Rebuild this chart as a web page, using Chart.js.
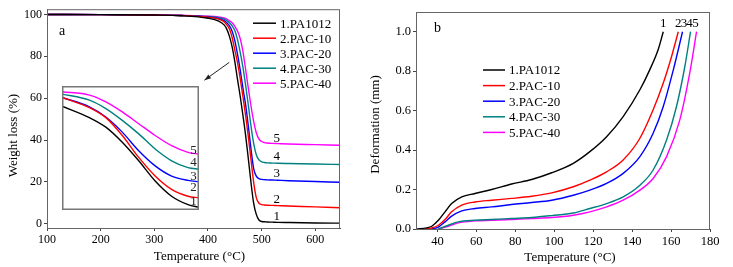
<!DOCTYPE html>
<html>
<head>
<meta charset="utf-8">
<script src="https://cdn.jsdelivr.net/npm/chart.js@4.4.0/dist/chart.umd.min.js"></script>
<style>
  body { margin: 0; background: #fff; }
  #wrap { position: relative; width: 733px; height: 267px; }
  canvas { position: absolute; }
  #inset { background: #fff; }
</style>
</head>
<body>
<div id="wrap">
  <canvas id="tga" width="366" height="267" style="left:0;top:0"></canvas>
  <canvas id="inset" width="137" height="124" style="left:62px;top:86px"></canvas>
  <canvas id="hdt" width="367" height="267" style="left:366px;top:0"></canvas>
</div>
<script>
const FONT = '"Liberation Serif", "Times New Roman", serif';

const seriesNames = ["1.PA1012", "2.PAC-10", "3.PAC-20", "4.PAC-30", "5.PAC-40"];
const seriesColors = ["#000000", "#ff0000", "#0000ff", "#008080", "#ff00ff"];
const curveNumbers = ["1", "2", "3", "4", "5"];

// panel a: weight loss vs temperature
const tgaTemp = [100, 200, 300, 350, 400, 420, 430, 435, 440, 445, 450, 455, 460, 465, 470, 475, 480, 485, 490, 495, 500, 505, 510, 520, 530, 550, 600, 650];
const tgaPA1012 = [100, 99.9, 99.7, 99.4, 98.2, 96.8, 95, 93, 89.5, 84.5, 77.5, 69, 61, 52, 42.5, 31.5, 20, 10, 4.5, 1.8, 1.1, 1.0, 0.9, 0.8, 0.7, 0.6, 0.4, 0.3];
const tgaPAC10 = [100, 99.9, 99.7, 99.5, 98.7, 97.8, 96.5, 95, 93, 89, 83, 77, 69.5, 61, 52, 42, 31, 20, 12.5, 9.8, 9.2, 9.0, 8.9, 8.8, 8.7, 8.5, 8.1, 7.6];
const tgaPAC20 = [100, 99.9, 99.7, 99.5, 98.8, 98, 97, 96, 94.5, 92, 87.5, 81, 73.5, 65, 57, 47, 36, 26.5, 22.8, 21.6, 21.2, 21.1, 21.0, 20.9, 20.8, 20.6, 20.2, 19.8];
const tgaPAC30 = [100, 99.9, 99.7, 99.5, 99, 98.4, 97.8, 97, 96, 94.5, 92.3, 88, 82, 75, 66.5, 57, 47, 38.5, 33, 30.5, 29.6, 29.3, 29.1, 29, 28.9, 28.8, 28.6, 28.3];
const tgaPAC40 = [100, 99.9, 99.8, 99.6, 99.2, 98.8, 98.3, 97.8, 97, 96, 94.3, 92, 88.5, 82.5, 74, 65, 56.5, 49, 43.5, 40.5, 39.3, 38.8, 38.6, 38.4, 38.3, 38.1, 37.8, 37.5];
const tgaLabelTemp = 528;
const tgaLabelWeight = [3.5, 11.7, 23.9, 32.2, 40.8];
const tgaArrow = [[439.7, 77.1], [393.3, 68.6]];

// inset of panel a (magnified onset, no axes)
const insetX = [0, 20, 32, 44, 56, 68, 80, 92, 100];
const insetPA1012 = [83.7, 74.5, 66.8, 54.6, 39.7, 23.4, 11.1, 4.3, 2.2];
const insetPAC10 = [90.8, 82.6, 74.5, 60.1, 42.4, 27.4, 16.6, 11.1, 9.8];
const insetPAC20 = [90.8, 83.2, 75, 62.8, 47.8, 35.6, 27.4, 23.9, 22.8];
const insetPAC30 = [93.5, 88.6, 81.8, 72.3, 61.4, 49.2, 39.7, 34.2, 32.9];
const insetPAC40 = [95.4, 92.7, 87.2, 79.1, 69.6, 60.1, 51.9, 46.5, 45.1];
const insetLabelX = 96;
const insetLabelY = [6.7, 17.7, 26.9, 37.9, 47.6];

// panel b: deformation vs temperature
const hdtTempPA1012 = [29.3, 34.5, 37.1, 40.5, 43.9, 47.3, 52.5, 59.3, 67.9, 78.1, 88.4, 98.7, 109.8, 118.3, 126.9, 135.4, 144, 149.1, 153.4, 156];
const hdtPA1012 = [0, 0.006, 0.014, 0.044, 0.087, 0.129, 0.163, 0.18, 0.2, 0.228, 0.251, 0.285, 0.333, 0.392, 0.468, 0.57, 0.706, 0.808, 0.91, 1.0];
const hdtTempPAC10 = [33.6, 37.1, 40.5, 43.9, 47.3, 52.5, 59.3, 67.9, 78.1, 88.4, 98.7, 109.8, 118.3, 126.9, 135.4, 144, 150.8, 156, 160.3, 163.7];
const hdtPAC10 = [0, 0.005, 0.019, 0.048, 0.087, 0.121, 0.137, 0.146, 0.155, 0.166, 0.183, 0.214, 0.248, 0.29, 0.35, 0.46, 0.604, 0.74, 0.876, 1.0];
const hdtTempPAC20 = [37.1, 40.5, 43.9, 47.3, 52.5, 59.3, 67.9, 78.1, 88.4, 98.7, 109.8, 118.3, 126.9, 135.4, 144, 150.8, 156, 161.2, 165.9];
const hdtPAC20 = [0, 0.01, 0.036, 0.065, 0.092, 0.104, 0.112, 0.124, 0.134, 0.146, 0.171, 0.197, 0.231, 0.282, 0.367, 0.485, 0.621, 0.808, 1.0];
const hdtTempPAC30 = [40.5, 45.6, 50.7, 59.3, 67.9, 78.1, 88.4, 98.7, 109.8, 118.3, 126.9, 135.4, 144, 150.8, 157.7, 162.8, 167.1, 170];
const hdtPAC30 = [0, 0.019, 0.036, 0.044, 0.048, 0.053, 0.058, 0.068, 0.081, 0.104, 0.129, 0.163, 0.222, 0.299, 0.451, 0.621, 0.825, 1.0];
const hdtTempPAC40 = [40.5, 45.6, 50.7, 59.3, 67.9, 78.1, 88.4, 98.7, 109.8, 118.3, 126.9, 135.4, 144, 150.8, 157.7, 164.5, 169.6, 173.1];
const hdtPAC40 = [0, 0.014, 0.031, 0.041, 0.044, 0.048, 0.053, 0.058, 0.07, 0.087, 0.112, 0.146, 0.197, 0.256, 0.367, 0.553, 0.791, 1.0];
const hdtLabelTemp = [156, 163.7, 166.6, 169.5, 172.5];
const hdtLabelDef = 1.042;

function toPoints(xs, ys) {
  return ys.map((y, i) => ({ x: xs[i], y: y }));
}

function lineSets(pointLists) {
  return pointLists.map((pts, i) => ({
    label: seriesNames[i],
    data: pts,
    borderColor: seriesColors[i],
    borderWidth: 1.4,
    pointRadius: 0,
    fill: false,
    cubicInterpolationMode: "monotone"
  }));
}

function axis(min, max, step, size, fmt, fitFn) {
  return {
    type: "linear",
    min: min,
    max: max,
    afterFit: fitFn,
    ticks: {
      stepSize: step,
      includeBounds: false,
      autoSkip: false,
      maxRotation: 0,
      padding: 2,
      color: "#000",
      font: { family: FONT, size: size },
      callback: fmt
    },
    grid: { drawOnChartArea: false, drawTicks: true, tickLength: 3, color: "#444" },
    border: { color: "#444", width: 1 }
  };
}

// frame, legend, axis titles and text labels
const decorPlugin = {
  id: "decor",
  afterDatasetsDraw(chart, args, opts) {
    const { ctx, chartArea: a, scales } = chart;
    ctx.save();

    ctx.strokeStyle = "#666";
    ctx.lineWidth = 1;
    ctx.strokeRect(a.left + 0.5, a.top + 0.5, a.right - a.left - 1, a.bottom - a.top);

    ctx.fillStyle = "#000";
    ctx.textBaseline = "middle";

    // panel letter
    ctx.font = "14px " + FONT;
    ctx.textAlign = "left";
    ctx.fillText(opts.letter, a.left + opts.letterAt[0], a.top + opts.letterAt[1]);

    // legend
    ctx.font = "13px " + FONT;
    seriesNames.forEach((name, i) => {
      const y = a.top + opts.legendAt[1] + i * opts.legendStep;
      const x = a.left + opts.legendAt[0];
      ctx.strokeStyle = seriesColors[i];
      ctx.lineWidth = 1.5;
      ctx.beginPath();
      ctx.moveTo(x, y);
      ctx.lineTo(x + opts.legendLine, y);
      ctx.stroke();
      ctx.fillText(name, x + opts.legendLine + 4, y + 1);
    });

    // curve numbers
    ctx.font = "13px " + FONT;
    ctx.textAlign = "center";
    opts.labels.forEach(l => {
      ctx.fillText(l.t, scales.x.getPixelForValue(l.x), scales.y.getPixelForValue(l.y));
    });

    // arrow
    if (opts.arrow) {
      const x0 = scales.x.getPixelForValue(opts.arrow[0][0]);
      const y0 = scales.y.getPixelForValue(opts.arrow[0][1]);
      const x1 = scales.x.getPixelForValue(opts.arrow[1][0]);
      const y1 = scales.y.getPixelForValue(opts.arrow[1][1]);
      const ang = Math.atan2(y1 - y0, x1 - x0);
      ctx.strokeStyle = "#222";
      ctx.fillStyle = "#222";
      ctx.lineWidth = 1;
      ctx.beginPath();
      ctx.moveTo(x0, y0);
      ctx.lineTo(x1, y1);
      ctx.stroke();
      ctx.beginPath();
      ctx.moveTo(x1, y1);
      ctx.lineTo(x1 - 7 * Math.cos(ang - 0.35), y1 - 7 * Math.sin(ang - 0.35));
      ctx.lineTo(x1 - 7 * Math.cos(ang + 0.35), y1 - 7 * Math.sin(ang + 0.35));
      ctx.closePath();
      ctx.fill();
    }

    // axis titles
    ctx.fillStyle = "#000";
    ctx.font = "13px " + FONT;
    ctx.textAlign = "center";
    ctx.fillText("Temperature (\u00B0C)", (a.left + a.right) / 2 + opts.xTitleShift, a.bottom + 29);
    ctx.translate(a.left + opts.yTitleAt[0], (a.top + a.bottom) / 2 + opts.yTitleAt[1]);
    ctx.rotate(-Math.PI / 2);
    ctx.fillText(opts.yTitle, 0, 0);

    ctx.restore();
  }
};

const insetPlugin = {
  id: "insetDecor",
  afterDatasetsDraw(chart) {
    const { ctx, scales } = chart;
    ctx.save();
    ctx.strokeStyle = "#777";
    ctx.lineWidth = 1.5;
    ctx.strokeRect(0.75, 0.75, chart.width - 1.5, chart.height - 1.5);
    ctx.fillStyle = "#222";
    ctx.font = "13px " + FONT;
    ctx.textAlign = "center";
    ctx.textBaseline = "middle";
    curveNumbers.forEach((t, i) => {
      ctx.fillText(t, scales.x.getPixelForValue(insetLabelX), scales.y.getPixelForValue(insetLabelY[i]));
    });
    ctx.restore();
  }
};

Chart.defaults.font.family = FONT;

new Chart(document.getElementById("tga"), {
  type: "line",
  data: {
    datasets: lineSets([
      toPoints(tgaTemp, tgaPA1012),
      toPoints(tgaTemp, tgaPAC10),
      toPoints(tgaTemp, tgaPAC20),
      toPoints(tgaTemp, tgaPAC30),
      toPoints(tgaTemp, tgaPAC40)
    ])
  },
  options: {
    responsive: false,
    animation: false,
    devicePixelRatio: 1,
    layout: { padding: { left: 0, right: 26, top: 9, bottom: 0 } },
    plugins: {
      legend: { display: false },
      tooltip: { enabled: false },
      decor: {
        letter: "a",
        letterAt: [12, 22],
        legendAt: [206, 14],
        legendStep: 15,
        legendLine: 23,
        labels: curveNumbers.map((t, i) => ({ t: t, x: tgaLabelTemp, y: tgaLabelWeight[i] })),
        arrow: tgaArrow,
        xTitleShift: 6,
        yTitle: "Weight loss (%)",
        yTitleAt: [-33, 17]
      }
    },
    scales: {
      x: axis(100, 646, 100, 12, v => v, s => { s.height = 39; }),
      y: axis(-2, 102.5, 20, 12, v => v, s => { s.width = 47; })
    }
  },
  plugins: [decorPlugin]
});

new Chart(document.getElementById("inset"), {
  type: "line",
  data: {
    datasets: lineSets([
      toPoints(insetX, insetPA1012),
      toPoints(insetX, insetPAC10),
      toPoints(insetX, insetPAC20),
      toPoints(insetX, insetPAC30),
      toPoints(insetX, insetPAC40)
    ])
  },
  options: {
    responsive: false,
    animation: false,
    devicePixelRatio: 1,
    layout: { padding: 0 },
    plugins: { legend: { display: false }, tooltip: { enabled: false } },
    scales: {
      x: { type: "linear", display: false, min: 0, max: 100 },
      y: { type: "linear", display: false, min: 0, max: 100 }
    }
  },
  plugins: [insetPlugin]
});

new Chart(document.getElementById("hdt"), {
  type: "line",
  data: {
    datasets: lineSets([
      toPoints(hdtTempPA1012, hdtPA1012),
      toPoints(hdtTempPAC10, hdtPAC10),
      toPoints(hdtTempPAC20, hdtPAC20),
      toPoints(hdtTempPAC30, hdtPAC30),
      toPoints(hdtTempPAC40, hdtPAC40)
    ])
  },
  options: {
    responsive: false,
    animation: false,
    devicePixelRatio: 1,
    layout: { padding: { left: 0, right: 23, top: 12, bottom: 0 } },
    plugins: {
      legend: { display: false },
      tooltip: { enabled: false },
      decor: {
        letter: "b",
        letterAt: [18, 16],
        legendAt: [67, 58],
        legendStep: 15.6,
        legendLine: 22,
        labels: [
          { t: "1", x: hdtLabelTemp[0], y: hdtLabelDef },
          { t: "2", x: hdtLabelTemp[1], y: hdtLabelDef },
          { t: "3", x: hdtLabelTemp[2], y: hdtLabelDef },
          { t: "4", x: hdtLabelTemp[3], y: hdtLabelDef },
          { t: "5", x: hdtLabelTemp[4], y: hdtLabelDef }
        ],
        arrow: null,
        xTitleShift: 7,
        yTitle: "Deformation (mm)",
        yTitleAt: [-40, 4]
      }
    },
    scales: {
      x: axis(29, 180, 20, 12.5, v => v, s => { s.height = 38; }),
      y: axis(0, 1.1, 0.2, 12.5, v => v.toFixed(1), s => { s.width = 50; })
    }
  },
  plugins: [decorPlugin]
});
</script>
</body>
</html>
